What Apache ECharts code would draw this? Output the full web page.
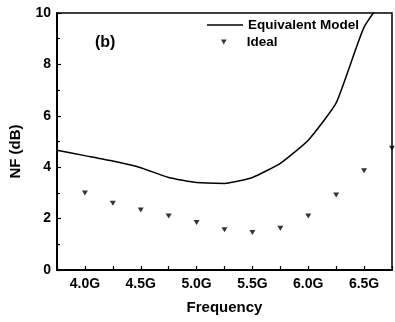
<!DOCTYPE html>
<html><head><meta charset="utf-8">
<script src="https://cdn.jsdelivr.net/npm/echarts@6/dist/echarts.min.js"></script>
<style>html,body{margin:0;padding:0;background:#fff}#c{width:395px;height:322px}</style>
</head><body><div id="c"></div>
<script>
// Data
const modelFreq = [3.75, 4.0, 4.25, 4.5, 4.75, 5.0, 5.25, 5.5, 5.75, 6.0, 6.25, 6.5, 6.75];
const modelNF   = [4.66, 4.45, 4.24, 3.98, 3.6, 3.4, 3.37, 3.6, 4.15, 5.05, 6.5, 9.45, 11.0];
const idealFreq = [4.0, 4.25, 4.5, 4.75, 5.0, 5.25, 5.5, 5.75, 6.0, 6.25, 6.5, 6.75];
const idealNF   = [3.0, 2.6, 2.33, 2.1, 1.85, 1.57, 1.46, 1.62, 2.1, 2.92, 3.86, 4.74];
const xLabelValues = [4.0, 4.5, 5.0, 5.5, 6.0, 6.5];
const seriesNames = ['Equivalent Model', 'Ideal'];

const FONT = 'Liberation Sans, Arial, sans-serif';
const chart = echarts.init(document.getElementById('c'), null, {renderer: 'canvas'});
const zip = (a, b) => a.map((v, i) => [v, b[i]]);
const DOWN_TRI = 'path://M0,0 L10,0 L5,9 Z';

chart.setOption({
  animation: false,
  backgroundColor: '#fff',
  textStyle: {fontFamily: FONT, color: '#000'},
  title: {
    text: '(b)', left: 90, top: 30,
    textStyle: {fontFamily: FONT, fontSize: 16, fontWeight: 'bold', color: '#000'}
  },
  grid: {left: 57, top: 13, right: 0, bottom: 52, show: true, borderColor: '#000', borderWidth: 1.5, backgroundColor: 'transparent'},
  legend: [
    {
      data: [{name: seriesNames[0], icon: 'rect'}], left: 207, top: 18, padding: 0,
      itemWidth: 36, itemHeight: 1.5, itemGap: 0,
      textStyle: {fontFamily: FONT, fontSize: 13.5, fontWeight: 'bold', color: '#000'}
    },
    {
      data: [{name: seriesNames[1], icon: DOWN_TRI}], left: 221, top: 35, padding: 0,
      itemWidth: 6, itemHeight: 5, itemGap: 0, symbolRotate: 0,
      textStyle: {fontFamily: FONT, fontSize: 13.5, fontWeight: 'bold', color: '#000', padding: [0, 0, 0, 15]}
    }
  ],
  xAxis: {
    type: 'value', min: 3.75, max: 6.75, interval: 0.25,
    name: 'Frequency', nameLocation: 'middle', nameGap: 30,
    nameTextStyle: {fontFamily: FONT, fontSize: 15, fontWeight: 'bold', color: '#000'},
    axisLine: {show: true, lineStyle: {color: '#000', width: 2}},
    axisTick: {show: true, inside: true, length: 4, lineStyle: {color: '#000', width: 1.2}},
    splitLine: {show: false},
    axisLabel: {
      margin: 7, fontFamily: FONT, fontSize: 14, fontWeight: 'bold', color: '#000',
      formatter: v => xLabelValues.some(x => Math.abs(x - v) < 1e-6) ? v.toFixed(1) + 'G' : ''
    }
  },
  yAxis: {
    type: 'value', min: 0, max: 10, interval: 2,
    name: 'NF (dB)', nameLocation: 'middle', nameGap: 34,
    nameTextStyle: {fontFamily: FONT, fontSize: 15, fontWeight: 'bold', color: '#000', padding: [0, 20, 0, 0]},
    axisLine: {show: true, lineStyle: {color: '#000', width: 2}},
    axisTick: {show: true, inside: true, length: 4, lineStyle: {color: '#000', width: 1.2}},
    minorTick: {show: true, splitNumber: 2, length: 3, lineStyle: {color: '#000', width: 1.2}},
    splitLine: {show: false},
    axisLabel: {margin: 6, fontFamily: FONT, fontSize: 14, fontWeight: 'bold', color: '#000'}
  },
  series: [
    {
      name: seriesNames[0], type: 'line', data: zip(modelFreq, modelNF),
      smooth: 0.15, showSymbol: false, symbol: 'none', clip: true,
      lineStyle: {color: '#000', width: 1.5}, itemStyle: {color: '#000'}
    },
    {
      name: seriesNames[1], type: 'scatter', data: zip(idealFreq, idealNF),
      symbol: 'triangle', symbolRotate: 180, symbolSize: [6, 5], clip: false,
      itemStyle: {color: '#000'}
    }
  ]
});
</script></body></html>
